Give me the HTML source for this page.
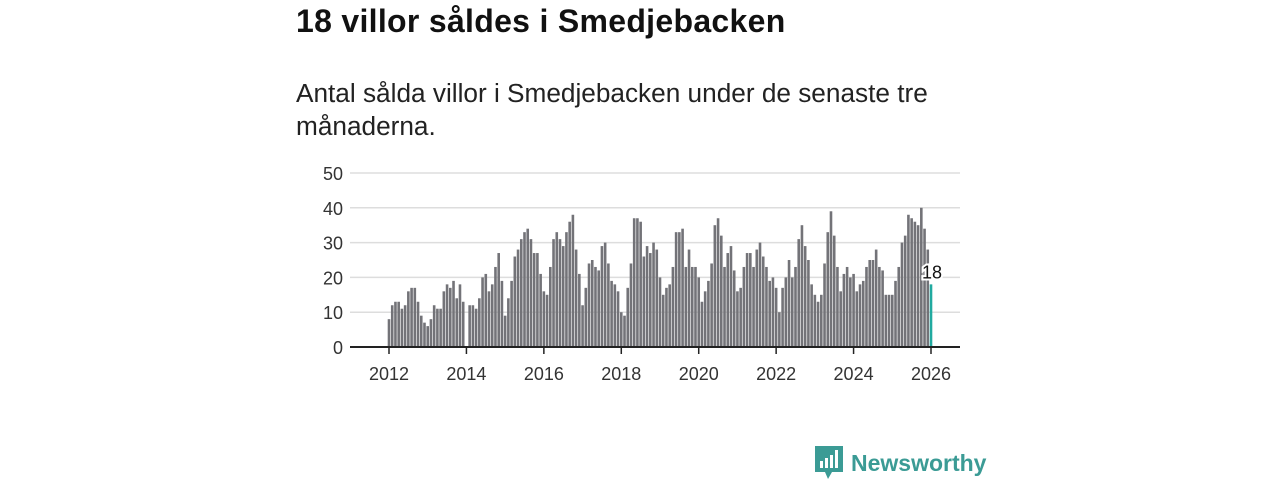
<!DOCTYPE html>
<html><head><meta charset="utf-8"><style>
body{margin:0;width:1280px;height:480px;background:#fff;font-family:"Liberation Sans","DejaVu Sans",sans-serif;overflow:hidden;position:relative}
h1{position:absolute;left:296px;top:3px;margin:0;font-size:32px;letter-spacing:0.3px;font-weight:bold;color:#111}
.sub{position:absolute;left:296px;top:77px;width:700px;font-size:26.2px;line-height:33px;color:#222}
svg{position:absolute;left:0;top:0}
.logo{position:absolute;left:815px;top:446px;display:flex;align-items:center;gap:8px;color:#3b9b95;font-size:23px;font-weight:bold}
</style></head><body>
<h1>18 villor såldes i Smedjebacken</h1>
<div class="sub">Antal sålda villor i Smedjebacken under de senaste tre månaderna.</div>
<svg id="c" width="1280" height="480"></svg>
<div class="logo">
<svg width="28" height="34" style="position:static" viewBox="0 0 28 34"><path d="M0 0H28V26H17L13 33L10 26H0Z" fill="#3b9b95"/><rect x="5" y="15" width="3" height="7" fill="#fff"/><rect x="10" y="12" width="3" height="10" fill="#fff"/><rect x="15" y="9" width="3" height="13" fill="#fff"/><rect x="20" y="4" width="3" height="18" fill="#fff"/></svg>
<span>Newsworthy</span></div>
<script>
const values=[8,12,13,13,11,12,16,17,17,13,9,7,6,8,12,11,11,16,18,17,19,14,18,13,
0,12,12,11,14,20,21,16,18,23,27,19,9,14,19,26,28,31,33,34,31,27,27,21,
16,15,23,31,33,31,29,33,36,38,28,21,12,17,24,25,23,22,29,30,24,19,18,16,
10,9,17,24,37,37,36,26,29,27,30,28,20,15,17,18,23,33,33,34,23,28,23,23,
20,13,16,19,24,35,37,32,23,27,29,22,16,17,23,27,27,23,28,30,26,23,19,20,17,10,
17,20,25,20,23,31,35,29,25,18,15,13,15,24,33,39,32,23,16,21,23,20,21,16,
18,19,23,25,25,28,23,22,15,15,15,19,23,30,32,38,37,36,35,40,34,28,18];
const yTicks=[0,10,20,30,40,50];
const xTicks=[2012,2014,2016,2018,2020,2022,2024,2026];
const svg=document.getElementById('c');const NS='http://www.w3.org/2000/svg';
const n=values.length;
const endM=(2026-2012)*12;const startM=endM-(n-1);
const x=m=>389+m*(931-389)/168;
const y=v=>347-v*3.48;
function add(t,a,txt){const e=document.createElementNS(NS,t);for(const k in a)e.setAttribute(k,a[k]);if(txt!=null)e.textContent=txt;svg.appendChild(e);return e;}
yTicks.forEach(t=>{
 if(t>0){const g=add('line',{x1:350,x2:960,y1:y(t),y2:y(t),stroke:'#ddd','stroke-width':1.5});
 
 }
 const l=add('text',{x:343,y:y(t)+7,'text-anchor':'end','font-size':18,fill:'#333'},t);
 
 
});
values.forEach((v,i)=>{
 const m=startM+i;const last=i===n-1;
 const r=add('rect',{x:x(m)-1.3,y:y(v),width:2.6,height:v*3.48,fill:last?'#21aaa0':'#737378'});
 
 
});
const ax=add('line',{x1:350,x2:960,y1:347,y2:347,stroke:'#222','stroke-width':2});


xTicks.forEach(t=>{
 const m=(t-2012)*12;
 const tk=add('line',{x1:x(m),x2:x(m),y1:347,y2:354,stroke:'#222','stroke-width':1.5});
 
 
 const l=add('text',{x:x(m),y:380,'text-anchor':'middle','font-size':18,fill:'#333'},t);
 
 
});
const lv=values[n-1];
const lb=add('text',{x:x(endM)+1,y:y(lv)-6,'text-anchor':'middle','font-size':18,fill:'#111',stroke:'#fff','stroke-width':4,'paint-order':'stroke'},lv);


</script>
</body></html>
